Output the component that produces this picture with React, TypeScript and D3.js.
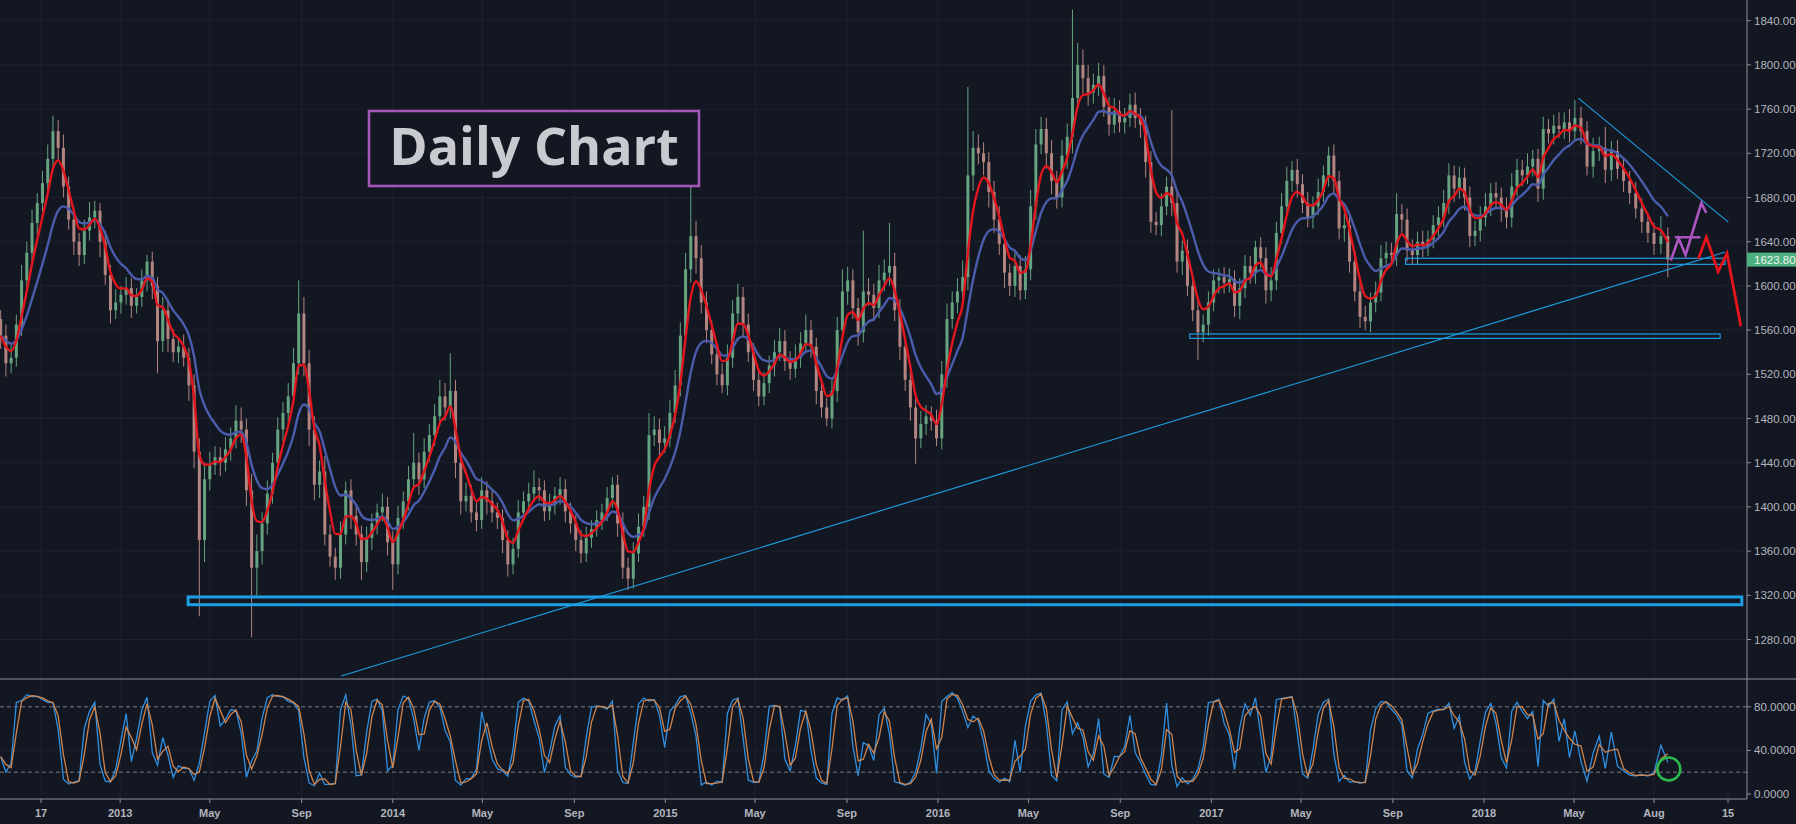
import React from 'react';
import * as d3 from 'd3';

// ---------- data ----------
const weekStart = '2012-07-23';
const firstOpen = 1570;
const closes: number[] = [
  1555,1530,1535,1565,1605,1630,1657,1675,1693,1715,
  1740,1725,1690,1660,1640,1628,1650,1662,1668,1640,
  1610,1578,1585,1592,1598,1582,1590,1605,1622,1600,
  1550,1578,1552,1540,1545,1535,1510,1450,1370,1425,
  1438,1445,1440,1452,1462,1478,1470,1415,1345,1360,
  1385,1412,1440,1470,1485,1500,1530,1575,1530,1470,
  1420,1432,1375,1355,1345,1375,1415,1392,1375,1350,
  1372,1385,1395,1400,1368,1348,1390,1405,1425,1440,
  1425,1450,1465,1482,1500,1490,1505,1440,1405,1410,
  1395,1388,1415,1405,1395,1390,1370,1348,1362,1395,
  1405,1412,1418,1415,1396,1402,1410,1416,1396,1385,
  1370,1358,1372,1380,1388,1395,1408,1420,1385,1345,
  1335,1358,1382,1400,1465,1470,1458,1462,1485,1510,
  1555,1615,1645,1625,1585,1560,1538,1520,1510,1535,
  1575,1590,1565,1540,1515,1500,1512,1528,1540,1550,
  1532,1525,1535,1548,1560,1545,1505,1490,1480,1505,
  1560,1595,1605,1580,1558,1595,1592,1580,1605,1612,
  1618,1578,1545,1515,1490,1462,1475,1482,1478,1462,
  1520,1570,1585,1595,1608,1700,1725,1720,1712,1685,
  1660,1638,1612,1600,1618,1596,1615,1672,1728,1742,
  1720,1695,1680,1718,1735,1770,1800,1788,1775,1782,
  1790,1762,1746,1758,1748,1752,1764,1752,1746,1712,
  1658,1655,1672,1690,1675,1622,1632,1600,1578,1558,
  1565,1585,1605,1608,1603,1606,1582,1598,1618,1612,
  1635,1625,1596,1605,1648,1672,1695,1705,1692,1675,
  1662,1672,1685,1700,1718,1695,1652,1655,1622,1595,
  1572,1568,1585,1594,1625,1630,1628,1665,1660,1632,
  1628,1640,1636,1642,1655,1662,1675,1700,1688,1698,
  1680,1645,1650,1662,1672,1684,1680,1670,1662,1690,
  1705,1700,1708,1715,1688,1742,1738,1745,1742,1748,
  1740,1752,1740,1708,1722,1725,1705,1722,1706,1695,
  1684,1670,1658,1648,1638,1645,1623.8,
];
const wickUp: number[] = [
  8,10,12,9,14,10,12,9,11,13, 14,10,12,9,11,8,10,14,9,7,
  10,9,12,8,10,9,8,10,6,9, 8,12,10,9,8,11,9,10,12,15,
  12,10,9,11,10,14,12,10,15,15, 10,12,9,11,10,12,14,30,15,12,
  12,10,14,9,8,12,8,10,9,8, 10,9,8,12,9,10,11,9,12,27,
  9,12,10,11,15,12,34,10,9,12, 10,9,12,8,10,9,8,9,10,11,
  9,10,15,8,9,10,8,11,9,8, 8,9,10,8,9,8,10,7,9,10,
  9,10,12,10,20,12,10,11,12,14, 12,15,50,14,12,10,9,8,10,12,
  12,12,9,10,8,9,10,9,11,12, 10,9,12,10,14,9,8,10,9,12,
  12,20,12,10,9,55,12,10,14,12, 39,12,10,9,10,8,12,10,9,10,
  12,14,10,12,15,80,15,12,10,9, 10,12,9,8,14,10,12,15,14,11,
  10,12,9,14,12,80,20,14,12,10, 12,10,9,12,10,9,10,11,9,8,
  10,9,12,9,69,12,9,10,8,9, 9,10,10,8,9,10,8,9,10,9,
  6,9,10,12,10,12,13,8,10,9, 10,9,12,9,8,10,9,10,9,10,
  9,10,9,10,12,10,9,19,9,10, 10,9,10,8,9,10,12,11,9,10,
  9,10,9,10,12,9,10,9,10,12, 10,9,12,8,9,11,9,10,12,9,
  12,16,10,9,12,10,19,9,10,9, 9,10,9,8,9,18,8,
];
const wickDn: number[] = [
  12,12,9,8,10,7,9,11,8,10, 8,12,10,9,12,10,8,9,10,14,
  9,12,8,10,9,11,7,9,10,12, 29,10,12,9,10,8,14,15,69,20,
  10,9,12,8,10,9,12,14,63,25, 12,10,9,8,11,9,8,10,12,15,
  14,12,10,9,11,10,9,12,10,16, 9,11,10,8,12,23,9,10,8,10,
  14,8,9,10,8,12,10,14,12,9, 9,10,8,12,9,10,12,11,9,8,
  8,9,7,10,9,8,9,8,10,9, 10,9,8,9,7,9,8,9,12,10,
  10,9,8,9,12,10,11,9,8,9, 10,9,12,14,10,12,9,10,7,9,
  9,10,12,9,10,9,8,9,10,8, 9,10,8,9,8,10,12,9,7,9,
  10,9,12,10,12,9,10,12,9,10, 12,10,12,10,12,23,9,10,9,7,
  10,12,9,10,8,12,14,10,12,14, 12,10,14,9,10,9,8,10,12,9,
  14,12,10,9,12,15,10,14,12,10, 10,9,10,8,9,10,8,9,12,14,
  10,9,10,8,12,10,12,9,10,25, 9,10,8,12,10,9,10,12,9,10,
  10,9,12,10,9,10,9,10,12,9, 9,10,8,9,10,12,10,12,10,9,
  10,8,10,9,8,10,9,10,12,10, 8,9,10,9,8,10,9,10,12,9,
  12,10,9,10,8,9,10,12,10,9, 9,10,8,9,12,10,9,10,8,9,
  10,9,12,8,10,9,12,10,9,10, 10,9,10,9,10,9,16,
];

const priceTicks = [1840,1800,1760,1720,1680,1640,1600,1560,1520,1480,1440,1400,1360,1320,1280];
const oscTicks = [80, 40, 0];
const oscBands = [80, 20];
const timeTickDates = ['2012-09-17','2013-01-01','2013-05-01','2013-09-01','2014-01-01','2014-05-01','2014-09-01','2015-01-01','2015-05-01','2015-09-01','2016-01-01','2016-05-01','2016-09-01','2017-01-01','2017-05-01','2017-09-01','2018-01-01','2018-05-01','2018-08-01','2018-10-15'];
const timeTickLabels = ['17','2013','May','Sep','2014','May','Sep','2015','May','Sep','2016','May','Sep','2017','May','Sep','2018','May','Aug','15'];

// drawings (date / price anchors)
const zoneStart = ['2013-04-02','2016-12-03','2017-09-18'];
const zoneEnd = ['2018-10-29','2018-10-07','2018-10-12'];
const zoneTop = [1318.5, 1556.5, 1625];
const zoneBottom = [1311.5, 1552.5, 1619.5];
const trendFrom = [['2013-10-24', 1247], ['2018-05-06', 1770]] as [string, number][];
const trendTo = [['2018-10-12', 1630.6], ['2018-10-15', 1658]] as [string, number][];
const purpleDates = ['2018-08-18','2018-08-26','2018-09-02','2018-09-18','2018-09-23'];
const purplePrices = [1623, 1643, 1628, 1675, 1666];
const purpleBarDates = ['2018-08-22','2018-09-17'];
const purpleBarPrice = 1644;
const redDates = ['2018-09-15','2018-09-23','2018-10-05','2018-10-14','2018-10-28'];
const redPrices = [1624.6, 1644, 1613, 1629.5, 1563.5];
const circleDate = '2018-08-16';
const circleValue = 23;

// ---------- helpers ----------
const parse = d3.utcParse('%Y-%m-%d');
function ema(arr: number[], alpha: number) {
  const out: number[] = [];
  let e = arr[0];
  arr.forEach((v) => { e = alpha * v + (1 - alpha) * e; out.push(e); });
  return out;
}

export default function App() {
  const W = 1796, H = 824;
  const axisX = 1747;
  const paneBottom = 679;
  const oscBottom = 799;
  const bg = '#131722';
  const gridC = '#1d2130';
  const lineC = '#8e9199';
  const textC = '#b2b5be';
  const font = '"Liberation Sans", Arial, sans-serif';

  const x = d3.scaleUtc()
    .domain(['2012-09-17','2018-01-01','2018-05-01','2018-08-01','2018-10-15'].map((s) => parse(s) as Date))
    .range([41, 1484, 1574, 1654, 1728]);
  const y = d3.scaleLinear().domain([1280, 1840]).range([639.5, 20.7]);
  const yo = d3.scaleLinear().domain([0, 100]).range([794, 685]);

  const start = parse(weekStart) as Date;
  const n = Math.min(closes.length, wickUp.length, wickDn.length);
  const candles = d3.range(n).map((i) => {
    const o = i === 0 ? firstOpen : closes[i - 1];
    const c = closes[i];
    return {
      d: d3.utcDay.offset(start, 7 * i + 2),
      o, c,
      h: Math.max(o, c) + wickUp[i],
      l: Math.min(o, c) - wickDn[i],
    };
  });
  const cl = candles.map((k) => k.c);
  const fast = ema(cl, 0.4);
  const slow = ema(cl, 0.18);

  // stochastic
  const rawK = candles.map((k, i) => {
    const s = candles.slice(Math.max(0, i - 2), i + 1);
    const hh = d3.max(s, (q) => q.h) as number;
    const ll = d3.min(s, (q) => q.l) as number;
    return hh === ll ? 50 : ((k.c - ll) / (hh - ll)) * 100;
  });
  const kLine = rawK;
  const dLine = kLine.map((v, i) => (i === 0 ? v : (v + kLine[i - 1]) / 2));

  const maLine = d3.line<number>()
    .x((_, i) => x(candles[i].d))
    .y((v) => y(v))
    .curve(d3.curveMonotoneX);
  const oscLine = d3.line<number>()
    .x((_, i) => x(candles[i].d))
    .y((v) => yo(v));

  const ptLine = d3.line<[Date, number]>().x((p) => x(p[0])).y((p) => y(p[1]));
  const purplePts = purpleDates.map((s, i) => [parse(s) as Date, purplePrices[i]] as [Date, number]);
  const redPts = redDates.map((s, i) => [parse(s) as Date, redPrices[i]] as [Date, number]);

  const last = candles[candles.length - 1].c;
  const bw = 3;

  return (
    <svg width={W} height={H} style={{ position: 'absolute', left: 0, top: 0, display: 'block' }}>
      <defs>
        <clipPath id="mainClip"><rect x={0} y={0} width={axisX} height={paneBottom} /></clipPath>
        <clipPath id="oscClip"><rect x={0} y={paneBottom + 1} width={axisX} height={oscBottom - paneBottom - 1} /></clipPath>
      </defs>
      <rect x={0} y={0} width={W} height={H} fill={bg} />

      {/* grid */}
      <g>
        {timeTickDates.map((s, i) => (
          <line key={'vg' + i} x1={x(parse(s) as Date)} x2={x(parse(s) as Date)} y1={0} y2={oscBottom} stroke={gridC} strokeWidth={1} />
        ))}
        {priceTicks.map((p) => (
          <line key={'hg' + p} x1={0} x2={axisX} y1={y(p)} y2={y(p)} stroke={gridC} strokeWidth={1} />
        ))}
        {[40, 0].map((v) => (
          <line key={'og' + v} x1={0} x2={axisX} y1={yo(v)} y2={yo(v)} stroke={gridC} strokeWidth={1} />
        ))}
      </g>

      {/* candles */}
      <g clipPath="url(#mainClip)">
        {candles.map((k, i) => {
          const cx = x(k.d);
          const up = k.c >= k.o;
          const col = up ? '#72b78f' : '#c9958f';
          const top = y(Math.max(k.o, k.c));
          const bot = y(Math.min(k.o, k.c));
          return (
            <g key={'c' + i} opacity={0.88}>
              <line x1={cx} x2={cx} y1={y(k.h)} y2={y(k.l)} stroke={col} strokeWidth={1} />
              <rect x={cx - bw / 2} y={top} width={bw} height={Math.max(1, bot - top)} fill={col} />
            </g>
          );
        })}
        <path d={maLine(slow) || ''} fill="none" stroke="#4a5cab" strokeWidth={2.4} />
        <path d={maLine(fast) || ''} fill="none" stroke="#e3151d" strokeWidth={2.4} />

        {/* drawings */}
        {zoneStart.map((s, i) => {
          const x0 = x(parse(s) as Date);
          const x1 = x(parse(zoneEnd[i]) as Date);
          return (
            <rect key={'z' + i} x={x0} y={y(zoneTop[i])} width={x1 - x0} height={y(zoneBottom[i]) - y(zoneTop[i])}
              fill="none" stroke="#1e9fe3" strokeWidth={i === 0 ? 3 : 1.2} />
          );
        })}
        {trendFrom.map((f, i) => (
          <line key={'t' + i} x1={x(parse(f[0]) as Date)} y1={y(f[1])} x2={x(parse(trendTo[i][0]) as Date)} y2={y(trendTo[i][1])}
            stroke="#1e9fe3" strokeWidth={1.1} />
        ))}
        <path d={ptLine(purplePts) || ''} fill="none" stroke="#ae55c2" strokeWidth={2.6} strokeLinejoin="miter" />
        <line x1={x(parse(purpleBarDates[0]) as Date)} x2={x(parse(purpleBarDates[1]) as Date)} y1={y(purpleBarPrice)} y2={y(purpleBarPrice)}
          stroke="#ae55c2" strokeWidth={2.4} />
        <path d={ptLine(redPts) || ''} fill="none" stroke="#e8141c" strokeWidth={2.8} strokeLinejoin="miter" />
      </g>

      {/* title */}
      <rect x={369} y={111} width={330} height={75} fill={bg} stroke="#a256b6" strokeWidth={2.6} />
      <text x={534} y={165} textAnchor="middle" fontFamily='"Open Sans", sans-serif' fontWeight={700} fontSize={52} fill="#c9cacf">
        Daily Chart
      </text>

      {/* oscillator */}
      {oscBands.map((v) => (
        <line key={'ob' + v} x1={0} x2={axisX} y1={yo(v)} y2={yo(v)} stroke="#787b86" strokeWidth={1} strokeDasharray="4,3" />
      ))}
      <g clipPath="url(#oscClip)">
        <path d={oscLine(kLine) || ''} fill="none" stroke="#2f8fe0" strokeWidth={1.3} />
        <path d={oscLine(dLine) || ''} fill="none" stroke="#d98a4e" strokeWidth={1.3} opacity={0.95} />
      </g>
      <circle cx={x(parse(circleDate) as Date)} cy={yo(circleValue)} r={11.5} fill="none" stroke="#2cb84b" strokeWidth={2.6} />

      {/* borders */}
      <line x1={0} x2={W} y1={paneBottom} y2={paneBottom} stroke={lineC} strokeWidth={1} />
      <line x1={0} x2={axisX} y1={oscBottom} y2={oscBottom} stroke={lineC} strokeWidth={1} />
      <line x1={axisX} x2={axisX} y1={0} y2={oscBottom} stroke={lineC} strokeWidth={1} />

      {/* price axis */}
      {priceTicks.map((p) => (
        <g key={'pl' + p}>
          <line x1={axisX} x2={axisX + 4} y1={y(p)} y2={y(p)} stroke={lineC} />
          <text x={axisX + 7} y={y(p)} dy="0.35em" fontFamily={font} fontSize={11.5} fill={textC}>{p.toFixed(2)}</text>
        </g>
      ))}
      <rect x={axisX} y={y(last) - 7} width={W - axisX} height={14} fill="#4db07f" />
      <text x={axisX + 7} y={y(last)} dy="0.35em" fontFamily={font} fontSize={11.5} fill="#f2f5f3">{last.toFixed(2)}</text>

      {oscTicks.map((v) => (
        <g key={'ol' + v}>
          <line x1={axisX} x2={axisX + 4} y1={yo(v)} y2={yo(v)} stroke={lineC} />
          <text x={axisX + 7} y={yo(v)} dy="0.35em" fontFamily={font} fontSize={11.5} fill={textC}>{v.toFixed(4)}</text>
        </g>
      ))}

      {/* time axis */}
      {timeTickDates.map((s, i) => {
        const tx = x(parse(s) as Date);
        return (
          <g key={'tl' + i}>
            <line x1={tx} x2={tx} y1={oscBottom} y2={oscBottom + 4} stroke={lineC} />
            <text x={tx} y={813} dy="0.35em" textAnchor="middle" fontFamily={font} fontSize={11} fontWeight={700} fill={textC}>
              {timeTickLabels[i]}
            </text>
          </g>
        );
      })}
    </svg>
  );
}
